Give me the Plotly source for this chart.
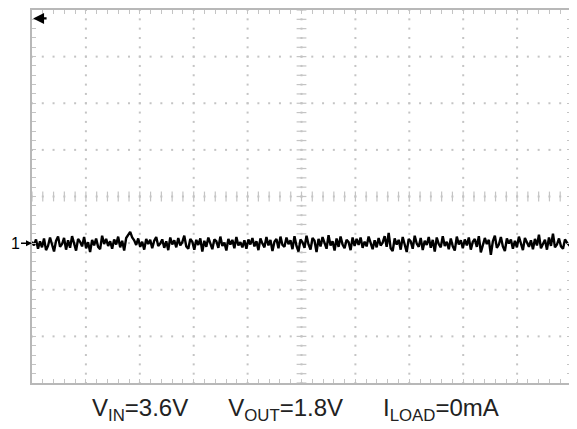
import numpy as np
import plotly.graph_objects as go

# Trace noise around channel-1 offset (divisions, 0.01 div units)
offset_div = -1.0
noise_seg1 = [3,-5,8,-12,4,-9,10,-15,-6,12,-3,-18,5,14,-8,-2,11,-14,6,-10,15,-4,-16,9,3,-7,13,-11,2,-19,7,-5,10,-8,-13,16,-2,9,-6,4,-12,8,-3,14,-9,5,-16,11,18,24,12,6]
noise_seg2 = [-4,10,-8,3,-14,9,-2,7,-11,5,13,-6,-1,8,-10,4,-15,12,-3,6,-9,11,-5,2,16,-7,-12,9,3,-14,7,-4,10,-18,5,-8,12,-2,-13,8,4,-10,14,-6,1,-16,9,-3,7,-11,13,-5,2,-9,6]
noise_seg3 = [-12,8,-3,11,-7,4,-15,10,-1,-9,13,-5,7,-17,3,9,-11,14,-4,-8,12,-2,6,-13,15,-6,-18,8,2,-10,16,-3,-14,11,5,-19,9,-7,13,-1,-12,17,-5,4,-16,10,-8,14,-3,-11,7,2,-15,12,-6]
noise_seg4 = [9,-4,12,-10,3,-7,14,-2,-13,6,-9,11,-5,1,15,-8,22,-11,-17,10,-3,7,-14,13,-6,-19,9,4,-12,16,-1,-8,11,-15,5,-4,13,-10,7,-18,12,-2,-9,15,-6,3,-13,10,-7,-16,14,-3,6,-11,8]
noise_seg5 = [-5,12,-14,3,9,-8,15,-20,-6,11,-2,7,-25,4,16,-10,-3,13,-7,-17,10,-1,8,-12,5,-9,14,-4,-15,11,2,-8,6,-13,9,-5,18,-11,-2,7,-14,12,-6,20,-9,-3,10,-7,-12,8,1,-4,3]

x_divs = 10
y_divs = 8
gap = "&nbsp;" * 6
caption = "V<sub>IN</sub>=3.6V" + gap + "V<sub>OUT</sub>=1.8V" + gap + "I<sub>LOAD</sub>=0mA"
channel_label = "1"

noise = np.array(noise_seg1 + noise_seg2 + noise_seg3 + noise_seg4 + noise_seg5) / 100.0
y = offset_div + noise
x = np.linspace(0, x_divs, len(y))

grid_col = "#c4c4c4"
fig = go.Figure()

# dotted grid (dots every minor subdivision)
gx, gy = [], []
minor = np.round(np.arange(0, x_divs + 1e-9, 0.2), 3)
minor_y = np.round(np.arange(-y_divs / 2, y_divs / 2 + 1e-9, 0.2), 3)
for k in range(1, x_divs):
    for v in minor_y:
        gx.append(k); gy.append(v)
for k in range(-y_divs // 2 + 1, y_divs // 2):
    for v in minor:
        gx.append(v); gy.append(k)
fig.add_trace(go.Scatter(x=gx, y=gy, mode="markers",
                         marker=dict(symbol="square", size=2, color=grid_col, line=dict(width=0)),
                         hoverinfo="skip", showlegend=False))
# centre axis ticks
fig.add_trace(go.Scatter(x=minor, y=[0] * len(minor), mode="markers",
                         marker=dict(symbol="line-ns-open", size=7, color=grid_col, line=dict(width=1.2, color=grid_col)),
                         hoverinfo="skip", showlegend=False))
fig.add_trace(go.Scatter(x=[x_divs / 2] * len(minor_y), y=minor_y, mode="markers",
                         marker=dict(symbol="line-ew-open", size=7, color=grid_col, line=dict(width=1.2, color=grid_col)),
                         hoverinfo="skip", showlegend=False))

# signal trace
fig.add_trace(go.Scatter(x=x, y=y, mode="lines", line=dict(color="black", width=2.4),
                         hoverinfo="skip", showlegend=False))

axis_common = dict(showgrid=False, zeroline=False, showticklabels=False, ticks="inside",
                   ticklen=4, tickwidth=1, tickcolor=grid_col, showline=True, linecolor="#b8b8b8",
                   linewidth=2, mirror="allticks", fixedrange=True)
fig.update_xaxes(range=[0, x_divs], tick0=0, dtick=0.2, **axis_common)
fig.update_yaxes(range=[-y_divs / 2, y_divs / 2], tick0=0, dtick=0.2, **axis_common)

# trigger position arrow (top-left)
fig.add_annotation(x=0.02, y=3.82, ax=15, ay=0, text="", showarrow=True,
                   arrowhead=2, arrowsize=1, arrowwidth=2.2, arrowcolor="black")
# channel 1 ground marker
fig.add_annotation(x=0, y=offset_div, ax=-17, ay=0, text=channel_label, showarrow=True,
                   arrowhead=2, arrowsize=0.8, arrowwidth=1.5, arrowcolor="black",
                   font=dict(size=16, color="black", family="Liberation Sans, Arial"))
# caption
fig.add_annotation(xref="paper", yref="paper", x=0.488, y=-0.025, yanchor="top", showarrow=False,
                   text=caption, font=dict(size=24, color="#222222", family="Liberation Sans, Arial"))

# page body has an 8px margin, so the figure is sized and offset to compensate
fig.update_layout(width=569, height=421, margin=dict(l=24, r=6, t=0, b=46),
                  paper_bgcolor="white", plot_bgcolor="white")
fig.write_html("out.html")
